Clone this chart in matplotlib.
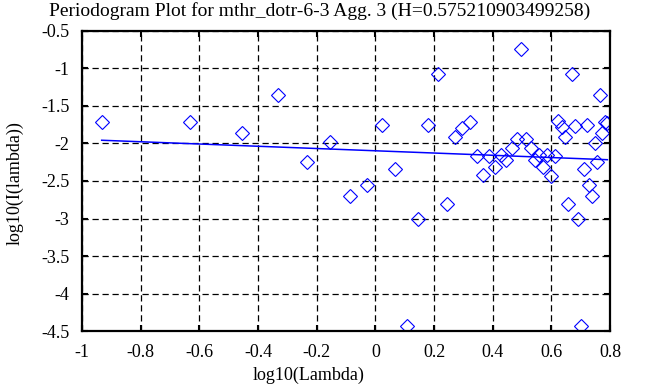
import matplotlib
matplotlib.use('Agg')
import matplotlib.pyplot as plt

# log10 of frequency
log_lambda = [-0.933, -0.632, -0.456, -0.331, -0.234, -0.155, -0.088, -0.030,
              0.021, 0.067, 0.108, 0.146, 0.181, 0.213, 0.243, 0.271,
              0.297, 0.322, 0.346, 0.368, 0.389, 0.409, 0.429, 0.447,
              0.465, 0.482, 0.498, 0.514, 0.529, 0.544, 0.558, 0.572,
              0.586, 0.599, 0.611, 0.623, 0.635, 0.647, 0.658, 0.669,
              0.680, 0.690, 0.700, 0.710, 0.720, 0.730, 0.739, 0.748,
              0.757, 0.766, 0.774, 0.783, 0.791]
# log10 of periodogram values
log_I = [-1.717, -1.713, -1.856, -1.353, -2.243, -1.984, -2.700, -2.549,
         -1.753, -2.336, -4.429, -3.007, -1.753, -1.073, -2.807, -1.920,
         -1.787, -1.707, -2.167, -2.424, -2.167, -2.307, -2.153, -2.220,
         -2.060, -1.940, -0.744, -1.940, -2.060, -2.220, -2.153, -2.309,
         -2.153, -2.427, -2.167, -1.696, -1.780, -1.917, -2.803, -1.073,
         -1.767, -3.000, -4.429, -2.340, -1.749, -2.553, -2.700, -1.993,
         -2.243, -1.360, -1.864, -1.716, -1.729]

fit_slope = -0.1504
fit_intercept = -2.097
title = 'Periodogram Plot for mthr_dotr-6-3 Agg. 3 (H=0.575210903499258)'

plt.rcParams['font.family'] = ['Liberation Serif', 'DejaVu Serif']
plt.rcParams['font.size'] = 13

fig = plt.figure(figsize=(6.68, 3.87), dpi=100)
ax = fig.add_axes([0.1228, 0.1447, 0.7904, 0.7752])

ax.plot(log_lambda, log_I, linestyle='none', marker='D', markersize=7,
        markerfacecolor='none', markeredgecolor='blue', markeredgewidth=0.8)

fit_x = [log_lambda[0], log_lambda[-1]]
fit_y = [fit_intercept + fit_slope * v for v in fit_x]
ax.plot(fit_x, fit_y, color='blue', linewidth=1.1)

ax.set_xlim(-1, 0.8)
ax.set_ylim(-4.5, -0.5)
ax.set_xticks([-1, -0.8, -0.6, -0.4, -0.2, 0, 0.2, 0.4, 0.6, 0.8])
ax.set_xticklabels(['-1', '-0.8', '-0.6', '-0.4', '-0.2', '0', '0.2', '0.4', '0.6', '0.8'])
ax.set_yticks([-4.5, -4, -3.5, -3, -2.5, -2, -1.5, -1, -0.5])
ax.set_yticklabels(['-4.5', '-4', '-3.5', '-3', '-2.5', '-2', '-1.5', '-1', '-0.5'])

ax.grid(True, color='black', linestyle=(0, (5, 3)), linewidth=0.9)
ax.tick_params(direction='in', length=4, width=1.5, top=True, right=True,
               pad=9)
for s in ax.spines.values():
    s.set_linewidth(1.6)

fig.text(320 / 668, 1 - 11 / 387, title, ha='center', va='center', fontsize=14)
fig.text(309 / 668, 1 - 375 / 387, 'log10(Lambda)', ha='center', va='center')
fig.text(15 / 668, 1 - 183 / 387, 'log10(I(lambda))', ha='center', va='center',
         rotation=90)

fig.savefig('out.png', dpi=100)
